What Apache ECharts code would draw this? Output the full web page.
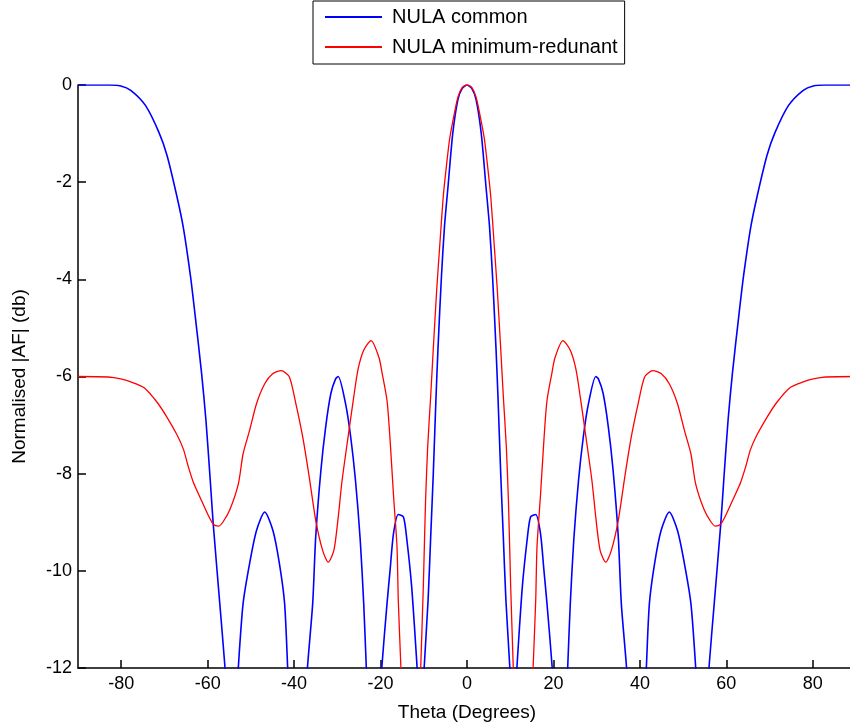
<!DOCTYPE html>
<html>
<head>
<meta charset="utf-8">
<script src="https://cdn.jsdelivr.net/npm/echarts@6/dist/echarts.min.js"></script>
<style>
html,body{margin:0;padding:0;background:#fff;overflow:hidden;width:850px;height:728px;}
#chart{width:857px;height:728px;}
</style>
</head>
<body>
<div id="chart"></div>
<script>
var seriesNames = ['NULA common', 'NULA minimum-redunant'];
var xTicks = [-80, -60, -40, -20, 0, 20, 40, 60, 80];
var yTicks = [0, -2, -4, -6, -8, -10, -12];

// [theta (deg), normalised |AF| (dB)]; values below -12 lie off the axis
var commonCurve = [
  [-90,0],[-84,0],[-82.9,0],[-80.1,-0.02],[-77.8,-0.11],[-74.4,-0.42],[-71.3,-0.97],[-69.4,-1.45],
  [-67.1,-2.3],[-65.6,-2.95],[-64,-3.92],[-62.9,-4.74],[-61.4,-5.94],[-60.4,-6.9],[-59.4,-8.14],
  [-58.7,-9.05],[-57.2,-10.67],[-56,-11.98],[-55.7,-12.5],[-54.5,-16],[-53.2,-12.6],[-52.9,-11.98],
  [-51.8,-10.67],[-50.3,-9.85],[-48.7,-9.17],[-46.8,-8.79],[-44.9,-9.17],[-43.4,-9.85],[-42.2,-10.67],
  [-41.5,-11.98],[-41.2,-12.6],[-39.2,-16],[-37.2,-12.6],[-36.9,-11.98],[-35.7,-10.67],[-35,-9.3],
  [-33.8,-7.93],[-32.7,-7.04],[-31.5,-6.35],[-30.4,-6.05],[-29.8,-6],[-28.1,-6.56],[-26.9,-7.25],
  [-25.8,-8.14],[-24.7,-9.37],[-23.9,-10.67],[-23.3,-11.98],[-23,-12.6],[-21.5,-16],[-20,-12.6],
  [-19.7,-11.98],[-18.5,-10.67],[-17.8,-9.99],[-17,-9.23],[-15.9,-8.84],[-14.7,-8.89],[-13.9,-9.37],
  [-12.8,-10.33],[-11.7,-11.77],[-11.5,-12.1],[-10.7,-16],[-10,-12.3],[-9.9,-11.98],[-9,-10.6],
  [-8.4,-9.3],[-7.8,-8.0],[-7.2,-6.5],[-6.7,-5.4],[-5.9,-3.92],[-5.2,-2.9],[-4.4,-2.1],[-3.3,-1.0],
  [-2.1,-0.3],[-1.1,-0.07],[0,0],
  [1.1,-0.07],[2.1,-0.3],[3.3,-1.0],[4.4,-2.1],[5.2,-2.9],[5.9,-3.92],[6.7,-5.4],[7.2,-6.5],[7.8,-8.0],
  [8.4,-9.3],[9,-10.6],[9.9,-11.98],[10,-12.3],[10.7,-16],[11.5,-12.1],[11.7,-11.77],[12.8,-10.33],[13.9,-9.37],
  [14.7,-8.89],[15.9,-8.84],[17,-9.23],[17.8,-9.99],[18.5,-10.67],[19.7,-11.98],[20,-12.6],[21.5,-16],
  [23,-12.6],[23.3,-11.98],[23.9,-10.67],[24.7,-9.37],[25.8,-8.14],[26.9,-7.25],[28.1,-6.56],[29.8,-6],
  [30.4,-6.05],[31.5,-6.35],[32.7,-7.04],[33.8,-7.93],[35,-9.3],[35.7,-10.67],[36.9,-11.98],[37.2,-12.6],
  [39.2,-16],[41.2,-12.6],[41.5,-11.98],[42.2,-10.67],[43.4,-9.85],[44.9,-9.17],[46.8,-8.79],[48.7,-9.17],
  [50.3,-9.85],[51.8,-10.67],[52.9,-11.98],[53.2,-12.6],[54.5,-16],[55.7,-12.5],[56,-11.98],[57.2,-10.67],
  [58.7,-9.05],[59.4,-8.14],[60.4,-6.9],[61.4,-5.94],[62.9,-4.74],[64,-3.92],[65.6,-2.95],[67.1,-2.3],
  [69.4,-1.45],[71.3,-0.97],[74.4,-0.42],[77.8,-0.11],[80.1,-0.02],[82.9,0],[84,0],[90,0]
];

var minRedCurve = [
  [-90,-6],[-83,-6.01],[-80.1,-6.05],[-77.8,-6.11],[-74.7,-6.23],[-71.7,-6.53],[-69.4,-6.84],
  [-67.1,-7.2],[-65.6,-7.5],[-64.5,-7.85],[-63.3,-8.18],[-61.7,-8.5],[-59.9,-8.85],[-58.7,-9.04],
  [-57.5,-9.08],[-56.5,-9.0],[-54.9,-8.75],[-52.9,-8.21],[-51.8,-7.59],[-50.3,-7.11],[-48.7,-6.56],
  [-46.8,-6.15],[-44.9,-5.94],[-43,-5.88],[-41.1,-6.01],[-39.6,-6.56],[-38,-7.25],[-36.5,-8.07],
  [-35,-8.96],[-33.4,-9.58],[-32.1,-9.82],[-30.8,-9.58],[-29.8,-8.9],[-28.9,-8.14],[-27.3,-7.11],
  [-26.2,-6.42],[-25.2,-5.85],[-23.9,-5.46],[-22.2,-5.26],[-20.4,-5.6],[-19.6,-5.95],[-18.5,-6.5],
  [-17.8,-7.3],[-17,-8.45],[-16.2,-9.5],[-15.9,-10.6],[-15.3,-11.98],[-15.1,-12.5],[-13,-16],
  [-10.9,-12.5],[-10.7,-11.98],[-10.1,-10.3],[-9.6,-8.6],[-9.1,-7.45],[-8.4,-6.4],[-7.8,-5.43],
  [-7,-4.2],[-6.3,-3.3],[-5.5,-2.3],[-4.8,-1.7],[-4,-1.1],[-3,-0.62],[-2.1,-0.25],[-1.1,-0.05],[0,0],
  [1.1,-0.05],[2.1,-0.25],[3,-0.62],[4,-1.1],[4.8,-1.7],[5.5,-2.3],[6.3,-3.3],[7,-4.2],[7.8,-5.43],
  [8.4,-6.4],[9.1,-7.45],[9.6,-8.6],[10.1,-10.3],[10.7,-11.98],[10.9,-12.5],[13,-16],[15.1,-12.5],
  [15.3,-11.98],[15.9,-10.6],[16.2,-9.5],[17,-8.45],[17.8,-7.3],[18.5,-6.5],[19.6,-5.95],[20.4,-5.6],
  [22.2,-5.26],[23.9,-5.46],[25.2,-5.85],[26.2,-6.42],[27.3,-7.11],[28.9,-8.14],[29.8,-8.9],[30.8,-9.58],
  [32.1,-9.82],[33.4,-9.58],[35,-8.96],[36.5,-8.07],[38,-7.25],[39.6,-6.56],[41.1,-6.01],[43,-5.88],
  [44.9,-5.94],[46.8,-6.15],[48.7,-6.56],[50.3,-7.11],[51.8,-7.59],[52.9,-8.21],[54.9,-8.75],[56.5,-9.0],
  [57.5,-9.08],[58.7,-9.04],[59.9,-8.85],[61.7,-8.5],[63.3,-8.18],[64.5,-7.85],[65.6,-7.5],[67.1,-7.2],
  [69.4,-6.84],[71.7,-6.53],[74.7,-6.23],[77.8,-6.11],[80.1,-6.05],[83,-6.01],[90,-6]
];

var FONT = '"Liberation Sans", Arial, sans-serif';
var TXT = '#000000';

var chart = echarts.init(document.getElementById('chart'), null, {renderer: 'canvas'});
chart.setOption({
  animation: false,
  backgroundColor: '#ffffff',
  grid: {left: 78, top: 85, right: 1, height: 583, containLabel: false},
  legend: {
    orient: 'vertical',
    left: 313,
    top: 1,
    padding: [6, 7, 7, 12],
    itemWidth: 57,
    itemHeight: 2,
    itemGap: 10,
    icon: 'rect',
    backgroundColor: '#ffffff',
    borderColor: '#000000',
    borderWidth: 1,
    borderRadius: 0,
    textStyle: {fontFamily: FONT, fontSize: 20, color: TXT, lineHeight: 20, padding: [0, 0, 0, 5]},
    data: seriesNames
  },
  xAxis: {
    type: 'value',
    min: -90,
    max: 90,
    name: 'Theta (Degrees)',
    nameLocation: 'middle',
    nameGap: 35,
    nameTextStyle: {fontFamily: FONT, fontSize: 19, color: TXT},
    axisLine: {show: true, onZero: false, lineStyle: {color: '#000', width: 1.5}},
    axisTick: {show: true, inside: true, length: 8, customValues: xTicks, lineStyle: {color: '#000', width: 1.5}},
    axisLabel: {customValues: xTicks, fontFamily: FONT, fontSize: 18, color: TXT, margin: 7},
    splitLine: {show: false}
  },
  yAxis: {
    type: 'value',
    min: -12,
    max: 0,
    interval: 2,
    name: 'Normalised |AF| (db)',
    nameLocation: 'middle',
    nameGap: 49,
    nameTextStyle: {fontFamily: FONT, fontSize: 19, color: TXT},
    axisLine: {show: true, onZero: false, lineStyle: {color: '#000', width: 1.5}},
    axisTick: {show: true, inside: true, length: 8, lineStyle: {color: '#000', width: 1.5}},
    axisLabel: {fontFamily: FONT, fontSize: 18, color: TXT, margin: 6},
    splitLine: {show: false}
  },
  series: [
    {
      name: seriesNames[0],
      type: 'line',
      data: commonCurve,
      showSymbol: false,
      smooth: 0.25,
      clip: true,
      color: '#0000ff',
      lineStyle: {color: '#0000ff', width: 1.6}
    },
    {
      name: seriesNames[1],
      type: 'line',
      data: minRedCurve,
      showSymbol: false,
      smooth: 0.25,
      clip: true,
      color: '#ff0000',
      lineStyle: {color: '#ff0000', width: 1.3}
    }
  ]
});
</script>
</body>
</html>
